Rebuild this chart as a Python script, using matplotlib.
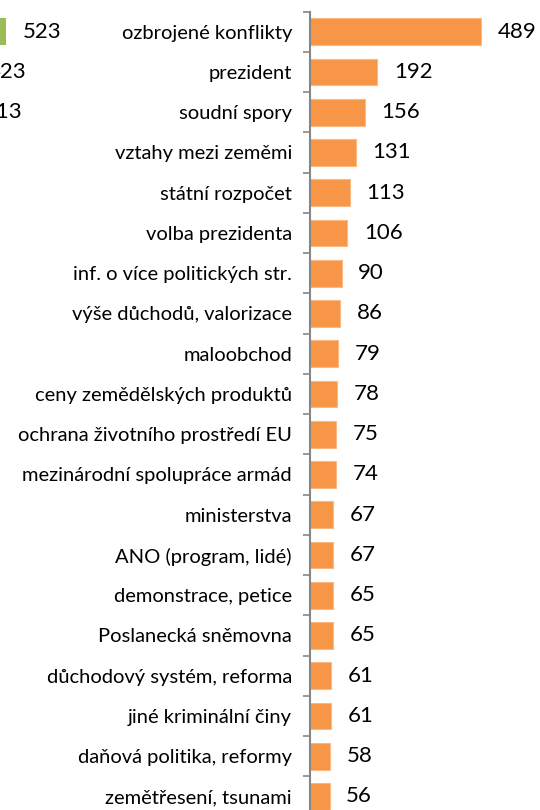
import matplotlib.pyplot as plt
import numpy as np

# right panel: topics and counts
categories = [
    "ozbrojené konflikty",
    "prezident",
    "soudní spory",
    "vztahy mezi zeměmi",
    "státní rozpočet",
    "volba prezidenta",
    "inf. o více politických str.",
    "výše důchodů, valorizace",
    "maloobchod",
    "ceny zemědělských produktů",
    "ochrana životního prostředí EU",
    "mezinárodní spolupráce armád",
    "ministerstva",
    "ANO (program, lidé)",
    "demonstrace, petice",
    "Poslanecká sněmovna",
    "důchodový systém, reforma",
    "jiné kriminální činy",
    "daňová politika, reformy",
    "zemětřesení, tsunami",
]
counts = [489, 192, 156, 131, 113, 106, 90, 86, 79, 78,
          75, 74, 67, 67, 65, 65, 61, 61, 58, 56]

# left panel (mostly cut off): only the top values are visible
left_counts = [523, 423, 413]

ORANGE = "#F79646"
GREEN = "#9BBB59"
AXIS_GRAY = "#868686"

plt.rcParams["font.family"] = ["Lato", "DejaVu Sans"]

W, H = 540, 810
fig = plt.figure(figsize=(W / 100, H / 100), dpi=100)

px_per_unit = 0.35
row_h = 40.25
top_px = 11.6
n = len(categories)

# right axes
ax_left_px = 310
ax_w_px = W - ax_left_px
ax_h_px = n * row_h
ax = fig.add_axes([ax_left_px / W, (H - top_px - ax_h_px) / H, ax_w_px / W, ax_h_px / H])
y = np.arange(n)
ax.barh(y, counts, height=0.66, color=ORANGE, edgecolor="#FAB882", linewidth=0.8)
ax.set_xlim(0, ax_w_px / px_per_unit)
ax.set_ylim(n - 0.5, -0.5)
ax.set_yticks(y)
ax.set_yticklabels(categories, fontsize=14.5)
ax.set_yticks(np.arange(n + 1) - 0.5, minor=True)
ax.tick_params(axis="y", which="major", length=0, pad=13)
ax.tick_params(axis="y", which="minor", length=5, width=1.2, color=AXIS_GRAY, direction="out")
ax.set_xticks([])
for side in ["top", "right", "bottom"]:
    ax.spines[side].set_visible(False)
ax.spines["left"].set_color(AXIS_GRAY)
ax.spines["left"].set_linewidth(1.5)
for yi, v in zip(y, counts):
    ax.annotate(str(v), (v, yi), xytext=(12, 0), textcoords="offset points",
                ha="left", va="center", fontsize=16, clip_on=False)

# left axes, positioned so only the bar ends show
bar_end_px = 6
lx0 = bar_end_px - left_counts[0] * px_per_unit
lw = 260
ax2 = fig.add_axes([lx0 / W, (H - top_px - ax_h_px) / H, lw / W, ax_h_px / H])
ly = np.arange(len(left_counts))
ax2.barh(ly, left_counts, height=0.66, color=GREEN)
ax2.set_xlim(0, lw / px_per_unit)
ax2.set_ylim(n - 0.5, -0.5)
ax2.axis("off")
for yi, v in zip(ly, left_counts):
    ax2.annotate(str(v), (v, yi), xytext=(12, 0), textcoords="offset points",
                 ha="left", va="center", fontsize=16)

fig.savefig("out.png", dpi=100)
